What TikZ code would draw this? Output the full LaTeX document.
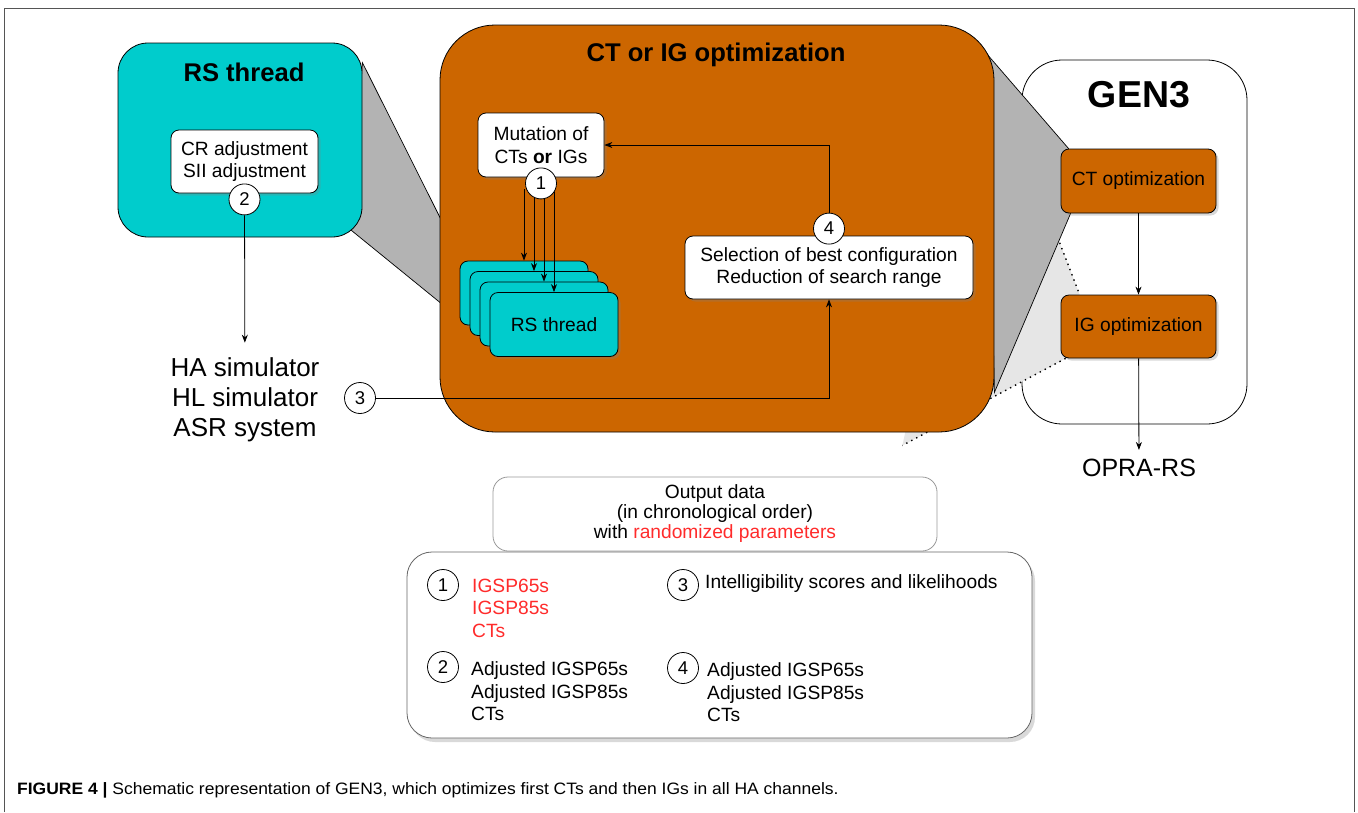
\documentclass[tikz,border=0pt]{standalone}
\usepackage{fontspec}
\setmainfont{Liberation Sans}
\usetikzlibrary{arrows.meta,shadows,backgrounds}

\definecolor{threadcyan}{HTML}{00CCCC}
\definecolor{optorange}{HTML}{CC6600}
\definecolor{wedgegray}{HTML}{B3B3B3}
\definecolor{wedgelight}{HTML}{E6E6E6}
\definecolor{paramred}{HTML}{FF2B2B}
\definecolor{framegray}{HTML}{555555}

\newcommand{\fs}[2]{\fontsize{#1}{#2}\selectfont}

\begin{document}
\begin{tikzpicture}[x=1pt,y=-1pt,
  >={Stealth[length=8pt,width=6pt]},
  every node/.style={font=\fs{19.2}{22.5}},
  boxshadow/.style={drop shadow={shadow xshift=2.5pt,shadow yshift=-2.5pt,opacity=0.3}},
  bigbox/.style={draw,line width=0.8pt,rounded corners=#1,inner sep=0},
  innerbox/.style={draw,line width=0.8pt,rounded corners=8pt,align=center,boxshadow},
  numcircle/.style={circle,draw,line width=0.8pt,fill=white,inner sep=0,minimum size=31pt,font=\fs{18.5}{18}},
  boxtitle/.style={font=\bfseries\fs{25.6}{30}}]

\useasboundingbox (0,0) rectangle (1358,812);

\draw [framegray] (4,812) -- (4,8) -- (1354,8) -- (1354,812);

% RS thread

\node (rsBig) at (240,140) [bigbox=30pt,fill=threadcyan,minimum width=244pt,minimum height=194pt] {};
\node (rsTitle) at (244,72) [boxtitle] {RS thread};
\node (crBox) at (244.5,161.5) [innerbox,fill=white,minimum width=147pt,minimum height=63pt] {CR adjustment\\SII adjustment};
\node (numTwo) at ([yshift=-6pt]crBox.south) [numcircle] {2};
\node (simText) at (245,400) [align=center,inner sep=0,font=\fs{26}{30}] {HA simulator\\HL simulator\\ASR system};

\draw [->,line width=0.8pt,shorten >=15pt] (numTwo) -- (simText);

% CT or IG optimization

\node (optBig) at (717,228.5) [bigbox=55pt,fill=optorange,minimum width=554pt,minimum height=407pt] {};
\node (optTitle) at (716,55) [boxtitle] {CT or IG optimization};
\node (mutBox) at (541,145) [innerbox,fill=white,minimum width=126pt,minimum height=64pt] {Mutation of\\CTs \textbf{or} IGs};
\coordinate (mutFoot) at ([yshift=-12pt]mutBox.south);

\foreach \k/\rstext in {0/,1/,2/,3/RS thread}
    \node (rs\k) at (524+10*\k,293+10.5*\k) [innerbox,fill=threadcyan,minimum width=128pt,minimum height=64pt] {\rstext};

\foreach \k in {0,...,3}
    \draw [->,line width=0.8pt] (rs\k.north |- mutFoot) -- (rs\k.north);

\node (numOne) at ([yshift=-6pt]mutBox.south) [numcircle] {1};

\node (selBox) at (829,267.5) [innerbox,fill=white,minimum width=288pt,minimum height=63pt] {Selection of best configuration\\Reduction of search range};
\node (numFour) at ([yshift=7pt]selBox.north) [numcircle] {4};
\node (numThree) at (360,398) [numcircle] {3};

\draw [->,line width=0.8pt] (numFour) |- (mutBox);
\draw [->,line width=0.8pt] (numThree) -| (selBox);

% GEN3

\node (genTitle) at (1139,95) [font=\bfseries\fs{37.5}{40}] {GEN3};
\node (ctBox) at (1138.5,181) [innerbox,fill=optorange,minimum width=155pt,minimum height=64pt] {CT optimization};
\node (igBox) at (1138.5,326.5) [innerbox,fill=optorange,minimum width=155pt,minimum height=63pt] {IG optimization};
\node (opraText) at (1139,468) [inner sep=0,font=\fs{25}{30}] {OPRA-RS};

\draw [->,line width=0.8pt] (ctBox) -- (igBox);
\draw [->,line width=0.8pt,shorten >=9pt] (igBox) -- (opraText);

% zoom wedges behind the boxes

\begin{scope}[on background layer]
\node (genBox) at (1134.5,242) [bigbox=40pt,fill=white,minimum width=225pt,minimum height=364pt] {};
\coordinate (wTop) at ([xshift=-7pt,yshift=-30pt]optBig.north east);
\coordinate (wLow) at ([xshift=-92pt,yshift=-13pt]optBig.south east);
\coordinate (igTop) at ([xshift=19pt]igBox.north west);
\coordinate (igLow) at ([xshift=5pt]igBox.south west);
\fill [wedgelight] (wTop) -- (igTop) -- (igLow) -- (wLow) -- cycle;
\draw [line width=1.4pt,dash pattern=on 1.4pt off 4.2pt] (wTop) -- (igTop);
\draw [line width=1.4pt,dash pattern=on 1.4pt off 4.2pt] (igLow) -- (wLow);
\filldraw [fill=wedgegray,line width=0.7pt] (wTop) -- ([xshift=8pt]ctBox.north west) -- ([xshift=10pt]ctBox.south west) -- ([yshift=40pt]optBig.south east) -- cycle;
\filldraw [fill=wedgegray,line width=0.7pt] ([yshift=-20pt]rsBig.north east) -- ([xshift=2pt]rs0.north west) -- ([yshift=7pt]rs0.south west) -- ([xshift=-11pt,yshift=7pt]rsBig.south east) -- cycle;
\end{scope}

% output data

\node (outBox) at (715,514) [draw=black!40,line width=0.8pt,rounded corners=15pt,minimum width=444pt,minimum height=74pt,align=center,font=\fs{19.2}{20}] {Output data\\(in chronological order)\\with \textcolor{paramred}{randomized parameters}};
\node (legBox) at (719.5,645) [draw=black!60,line width=0.8pt,fill=white,rounded corners=25pt,minimum width=625pt,minimum height=186pt,drop shadow={shadow xshift=3pt,shadow yshift=-4pt,opacity=0.3}] {};

\foreach \n/\x/\y in {1/443/585,2/443/667,3/683/585,4/683/668}
    \node (leg\n) at (\x,\y) [numcircle] {\n};

\node (legText1) at (472,608) [anchor=west,inner sep=0,align=left,text=paramred] {IGSP65s\\IGSP85s\\CTs};
\node (legText2) at (471,691.5) [anchor=west,inner sep=0,align=left] {Adjusted IGSP65s\\Adjusted IGSP85s\\CTs};
\node (legText3) at (705,584) [anchor=west,inner sep=0] {Intelligibility scores and likelihoods};
\node (legText4) at (707,692.5) [anchor=west,inner sep=0,align=left] {Adjusted IGSP65s\\Adjusted IGSP85s\\CTs};

\node (caption) at (17,790) [anchor=west,inner sep=0,font=\fs{16.5}{18}\addfontfeatures{FakeStretch=1.06}] {\textbf{FIGURE 4 |} Schematic representation of GEN3, which optimizes first CTs and then IGs in all HA channels.};

\end{tikzpicture}
\end{document}
